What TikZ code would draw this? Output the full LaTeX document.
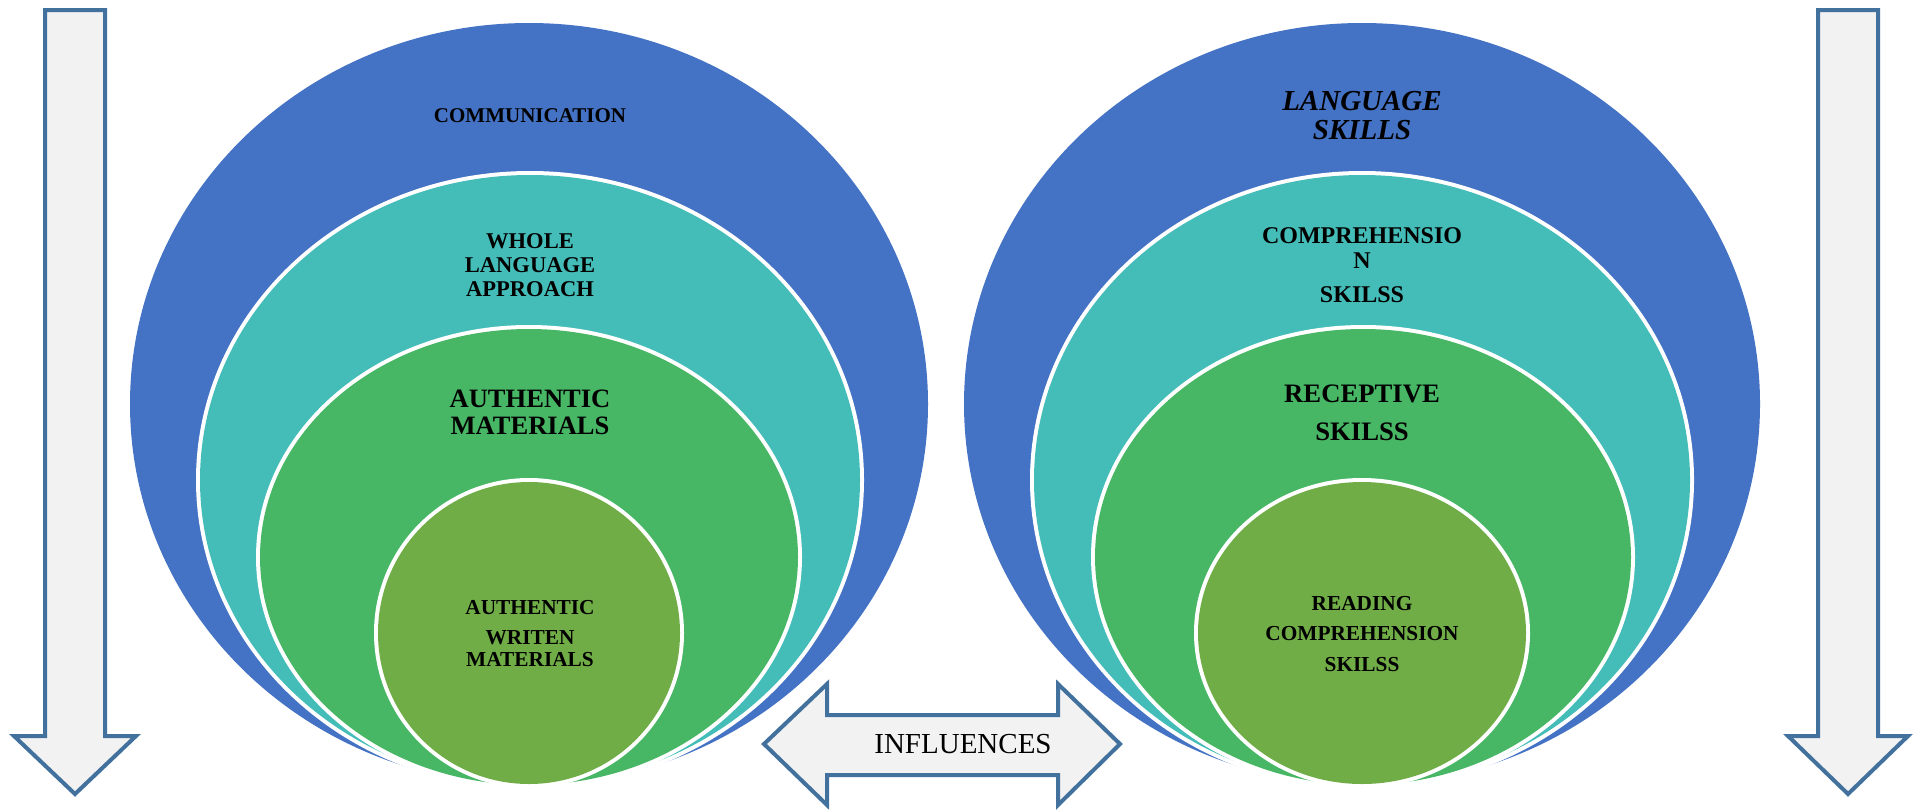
\documentclass[tikz,border=0pt]{standalone}
\usepackage{fontspec}
\setmainfont{Liberation Serif}
\definecolor{ringblue}{HTML}{4472C4}
\definecolor{ringteal}{HTML}{44BDB9}
\definecolor{ringgreen}{HTML}{47B665}
\definecolor{ringolive}{HTML}{70AD47}
\definecolor{arrowfill}{HTML}{F2F2F2}
\definecolor{arrowedge}{HTML}{41719C}
\begin{document}
\begin{tikzpicture}[x=0.75pt,y=-0.75pt,
	ring/.style={preaction={draw=white,line width=6pt}},
	bigarrow/.style={draw=arrowedge,fill=arrowfill,line width=3pt,line join=miter},
	lbl/.style={align=center,inner sep=0pt,text=black}]
	\useasboundingbox (0,0) rectangle (1922,810);
	
	% left target
	\path[ring,fill=ringblue](529,404) ellipse [x radius=399,y radius=381];
	\path[ring,fill=ringteal](530,480) ellipse [x radius=330,y radius=305];
	\path[ring,fill=ringgreen](529,557) ellipse [x radius=269,y radius=228];
	\path[ring,fill=ringolive](529,633) ellipse [x radius=151,y radius=151];
	
	% right target
	\path[ring,fill=ringblue](1362,404) ellipse [x radius=398,y radius=381];
	\path[ring,fill=ringteal](1362,480) ellipse [x radius=328,y radius=305];
	\path[ring,fill=ringgreen](1363,557) ellipse [x radius=268,y radius=228];
	\path[ring,fill=ringolive](1362,633) ellipse [x radius=164,y radius=151];
	
	% down arrows
	\draw[bigarrow](45,10)--(105,10)--(105,736)--(136,736)--(75,794)
	--(14,736)--(45,736)--cycle;
	\draw[bigarrow](1818,10)--(1878,10)--(1878,736)--(1908,736)--(1848,794)
	--(1788,736)--(1818,736)--cycle;
	
	% double arrow
	\draw[bigarrow](764,744)--(827,684)--(827,715)--(1058,715)--(1058,684)
	--(1120,744)--(1058,805)--(1058,775)--(827,775)--(827,805)--cycle;
	
	% labels left
	\node[lbl,font=\bfseries\fontsize{15.75}{18}\selectfont] (comm) at (530,116){COMMUNICATION};
	\node[lbl,font=\bfseries\fontsize{16.9}{18}\selectfont] (whole) at (530,265){WHOLE\\LANGUAGE\\APPROACH};
	\node[lbl,font=\bfseries\fontsize{19.9}{20.25}\selectfont] (authmat) at (530,412){AUTHENTIC\\MATERIALS};
	\node[lbl,font=\bfseries\fontsize{16}{16.5}\selectfont] (written) at (530,634){AUTHENTIC\\[6pt]WRITEN\\MATERIALS};
	
	% labels right
	\node[lbl,font=\bfseries\itshape\fontsize{21.75}{21.75}\selectfont] (langskills) at (1362,116){LANGUAGE\\SKILLS};
	\node[lbl,font=\bfseries\fontsize{18}{18.75}\selectfont] (compskills) at (1362,265){COMPREHENSIO\\N\\[6.75pt]SKILSS};
	\node[lbl,font=\bfseries\fontsize{20}{28.5}\selectfont] (recskills) at (1362,413){RECEPTIVE\\SKILSS};
	\node[lbl,font=\bfseries\fontsize{16}{22.9}\selectfont] (readskills) at (1362,634){READING\\COMPREHENSION\\SKILSS};
	
	\node[lbl,font=\fontsize{21.75}{24}\selectfont] (influences) at (963,744){INFLUENCES};
\end{tikzpicture}
\end{document}
